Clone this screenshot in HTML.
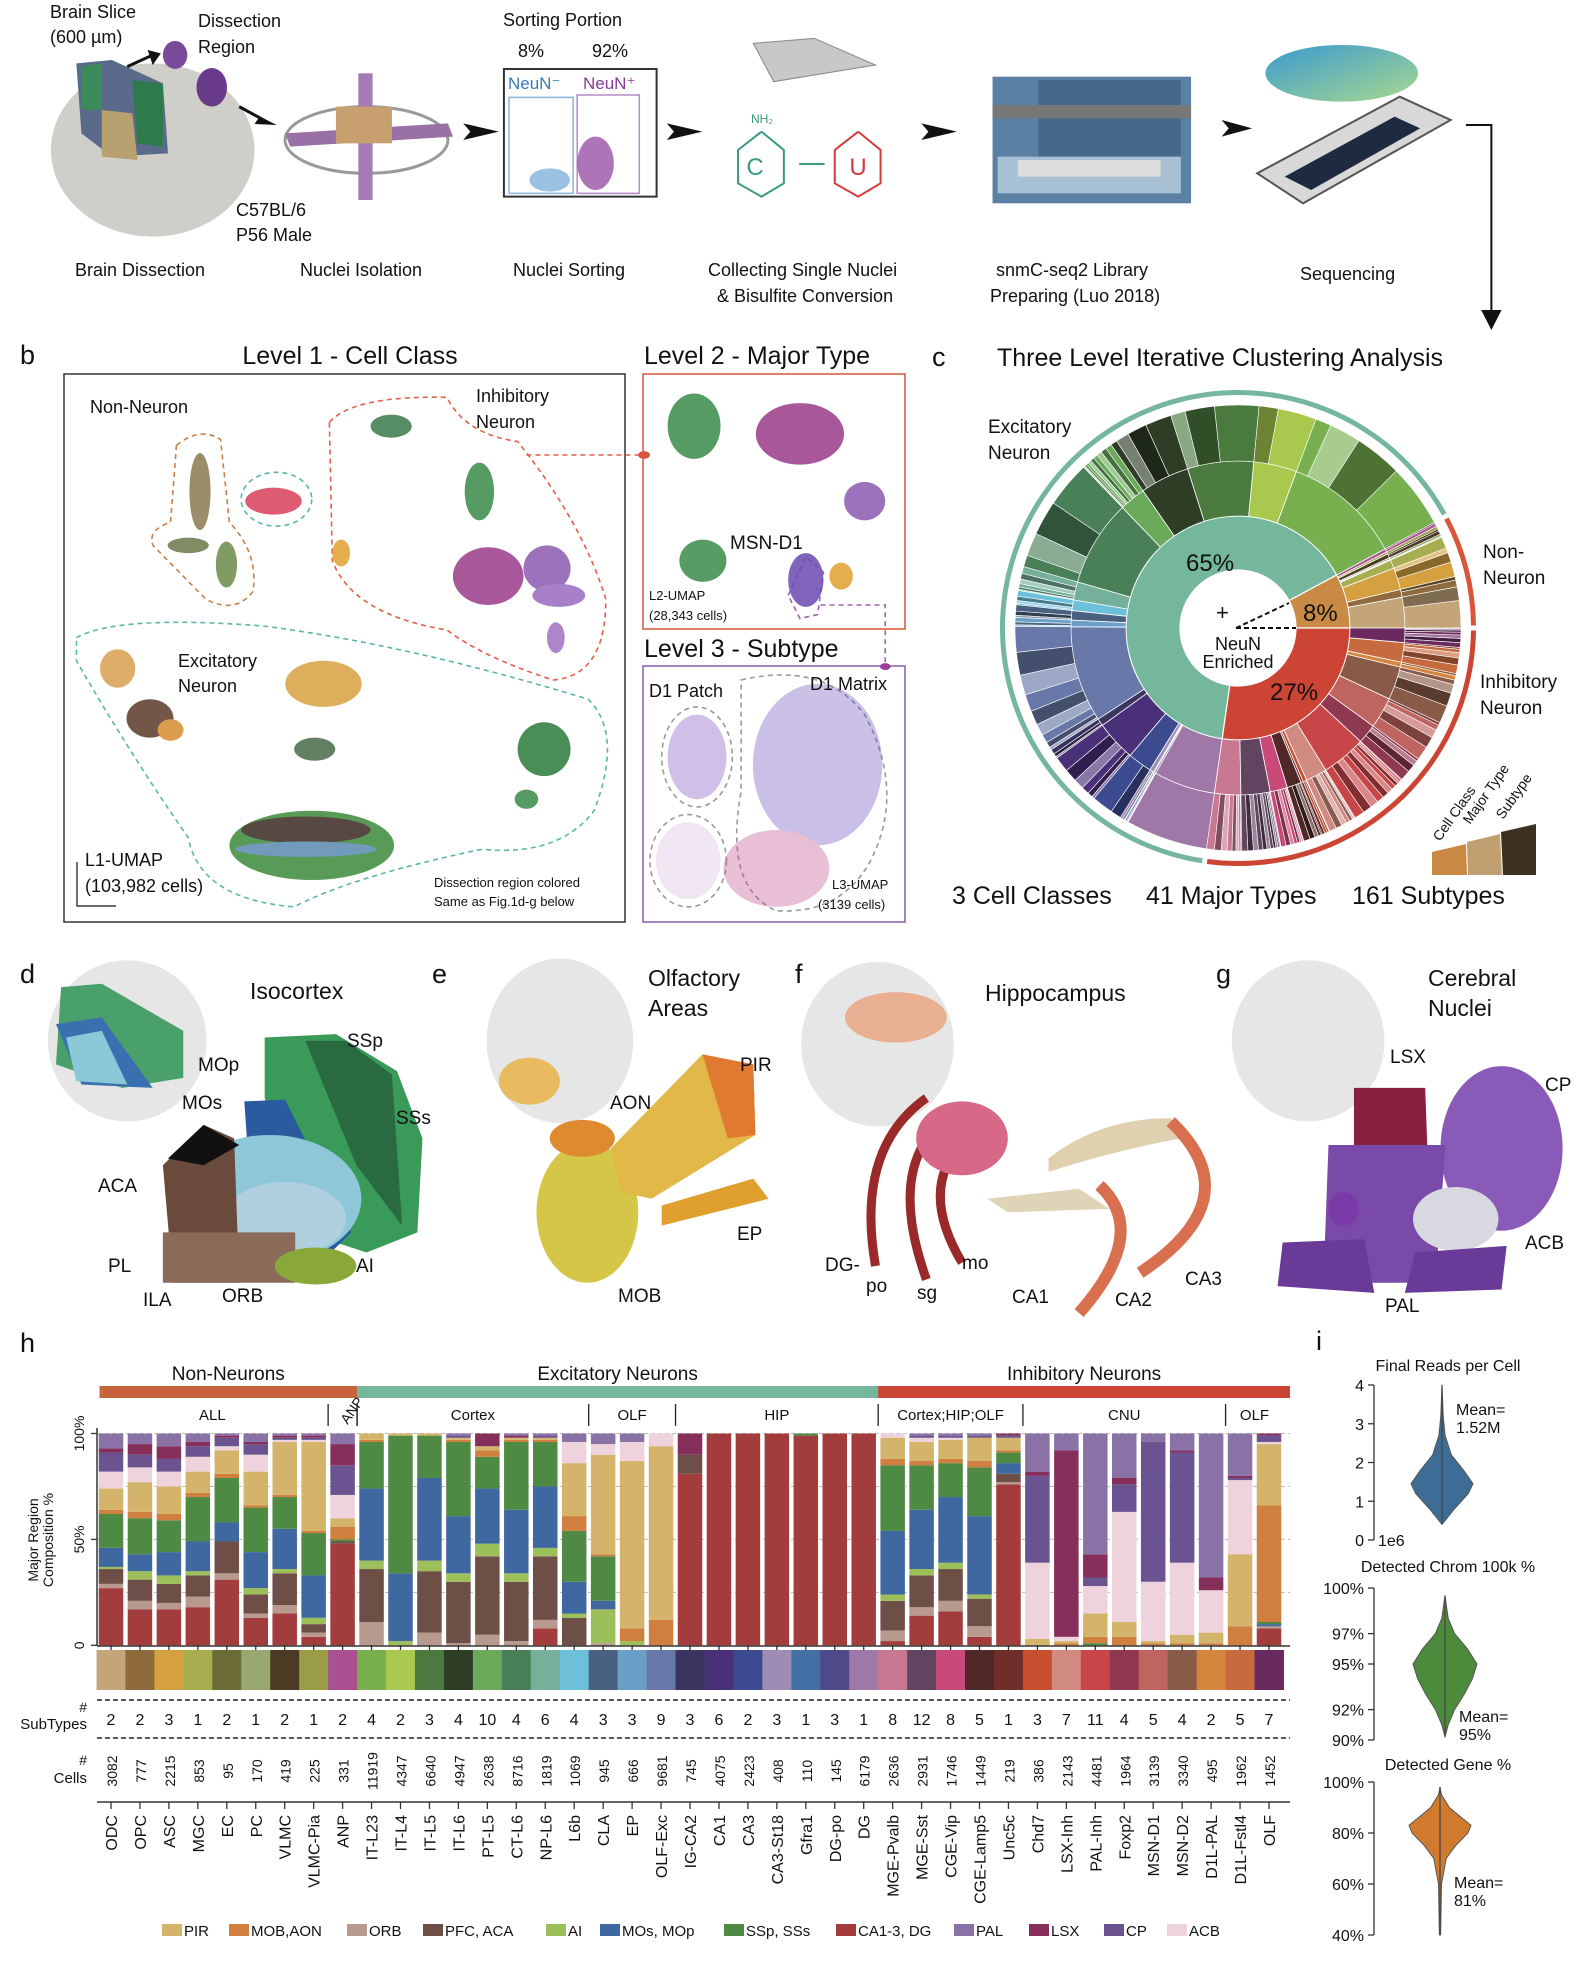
<!DOCTYPE html>
<html><head><meta charset="utf-8">
<style>
html,body{margin:0;padding:0;background:#fff;}
body{width:1588px;height:1958px;overflow:hidden;font-family:"Liberation Sans",Arial,sans-serif;}
svg text{font-family:"Liberation Sans",Arial,sans-serif;fill:#111;}
</style></head>
<body>
<svg id="fig" width="1588" height="1958" viewBox="0 0 1588 1958" xmlns="http://www.w3.org/2000/svg">
<defs>
<linearGradient id="chipg" x1="0" y1="0" x2="1" y2="1"><stop offset="0" stop-color="#3a9ad0"/><stop offset="1" stop-color="#a8d890"/></linearGradient>
</defs>

<!-- ===== Top row (panel a) ===== -->
<g transform="scale(1.018,0.3333)">
  <ellipse cx="150" cy="450" rx="100" ry="260" fill="#cfcec8"/>
  <path d="M75 190 L110 180 L160 250 L165 460 L110 470 L80 400 Z" fill="#5a6a8a"/>
  <path d="M80 200 L100 190 L100 330 L80 330Z" fill="#3a8a5a"/>
  <path d="M130 240 L160 250 L160 440 L135 430Z" fill="#2d7a4a"/>
  <path d="M100 330 L130 340 L135 480 L100 470Z" fill="#b8a070"/>
  <ellipse cx="172" cy="165" rx="12" ry="42" fill="#7a4a9a"/>
  <ellipse cx="208" cy="262" rx="15" ry="58" fill="#6a3a8a"/>
  <g stroke="#111" stroke-width="3" vector-effect="non-scaling-stroke" fill="#111">
    <line x1="125" y1="200" x2="150" y2="165" vector-effect="non-scaling-stroke"/>
    <line x1="235" y1="320" x2="262" y2="365" vector-effect="non-scaling-stroke"/>
  </g>
  <polygon points="455,370 490,395 455,420 462,395" fill="#111"/>
  <polygon points="655,370 690,395 655,420 662,395" fill="#111"/>
  <polygon points="905,370 940,395 905,420 912,395" fill="#111"/>
  <polygon points="1200,360 1230,385 1200,410 1207,385" fill="#111"/>
  <polygon points="145,150 158,160 150,195" fill="#111"/>
  <polygon points="255,350 272,375 250,372" fill="#111"/>
  <ellipse cx="360" cy="420" rx="80" ry="100" fill="none" stroke="#999" stroke-width="3" vector-effect="non-scaling-stroke"/>
  <path d="M280 400 L440 370 L445 410 L285 440Z" fill="#9a70a8"/>
  <rect x="352" y="220" width="14" height="380" fill="#a67ab4"/>
  <rect x="330" y="320" width="55" height="110" fill="#c8a070"/>
  <rect x="495" y="207" width="150" height="383" fill="#fff" stroke="#333" stroke-width="2" vector-effect="non-scaling-stroke"/>
  <rect x="500" y="292" width="63" height="288" fill="none" stroke="#8ab4d8" stroke-width="1.5" vector-effect="non-scaling-stroke"/>
  <rect x="567" y="285" width="61" height="295" fill="none" stroke="#b48ac8" stroke-width="1.5" vector-effect="non-scaling-stroke"/>
  <ellipse cx="540" cy="540" rx="20" ry="35" fill="#5a9ad0" opacity=".6"/>
  <ellipse cx="585" cy="490" rx="18" ry="80" fill="#8a3a9a" opacity=".7"/>
  <polygon points="740,130 800,115 860,195 760,245" fill="#c8c8c8" stroke="#888" stroke-width="1" vector-effect="non-scaling-stroke"/>
  <g fill="none" stroke-width="2" vector-effect="non-scaling-stroke">
    <polyline points="748,395 770,450 770,550 748,590 725,550 725,450 748,395" stroke="#3a9a80" vector-effect="non-scaling-stroke"/>
    <polyline points="843,395 865,450 865,550 843,590 820,550 820,450 843,395" stroke="#d83a3a" vector-effect="non-scaling-stroke"/>
    <line x1="785" y1="492" x2="810" y2="492" stroke="#3a9a80" vector-effect="non-scaling-stroke"/>
  </g>
  <rect x="975" y="230" width="195" height="380" fill="#5a80a4"/>
  <rect x="1020" y="240" width="140" height="230" fill="#46688a"/>
  <rect x="975" y="315" width="195" height="40" fill="#777"/>
  <rect x="980" y="470" width="180" height="110" fill="#a8c0d4"/>
  <rect x="1000" y="480" width="140" height="50" fill="#ddd"/>
  <ellipse cx="1318" cy="220" rx="75" ry="85" fill="url(#chipg)"/>
  <polygon points="1235,520 1375,290 1425,360 1280,610" fill="#d8d8d8" stroke="#555" stroke-width="2" vector-effect="non-scaling-stroke"/>
  <polygon points="1262,530 1370,350 1395,385 1288,570" fill="#1e2a40"/>
  <path d="M1440 375 L1465 375 L1465 960" fill="none" stroke="#111" stroke-width="2" vector-effect="non-scaling-stroke"/>
  <polygon points="1455,930 1475,930 1465,990" fill="#111"/>
</g>
<g font-size="18">
  <text x="50" y="18">Brain Slice</text><text x="50" y="43">(600 µm)</text>
  <text x="198" y="27">Dissection</text><text x="198" y="53">Region</text>
  <text x="503" y="26">Sorting Portion</text>
  <text x="518" y="57">8%</text><text x="592" y="57">92%</text>
  <text x="508" y="89" font-size="17" style="fill:#3a7ab8">NeuN⁻</text>
  <text x="583" y="89" font-size="17" style="fill:#8a3a9a">NeuN⁺</text>
  <text x="751" y="123" font-size="12" style="fill:#3a9a80">NH₂</text>
  <text x="755" y="175" font-size="24" text-anchor="middle" style="fill:#3a9a80">C</text>
  <text x="858" y="175" font-size="24" text-anchor="middle" style="fill:#d83a3a">U</text>
  <text x="236" y="216">C57BL/6</text><text x="236" y="241">P56 Male</text>
  <text x="75" y="276">Brain Dissection</text>
  <text x="300" y="276">Nuclei Isolation</text>
  <text x="513" y="276">Nuclei Sorting</text>
  <text x="708" y="276">Collecting Single Nuclei</text>
  <text x="717" y="302">&amp; Bisulfite Conversion</text>
  <text x="996" y="276">snmC-seq2 Library</text>
  <text x="990" y="302">Preparing (Luo 2018)</text>
  <text x="1300" y="280">Sequencing</text>
</g>

<!-- ===== Panel b ===== -->
<g>
  <text x="20" y="364" font-size="27">b</text>
  <text x="350" y="364" font-size="25" text-anchor="middle">Level 1 - Cell Class</text>
  <text x="644" y="364" font-size="25">Level 2 - Major Type</text>
  <text x="644" y="657" font-size="25">Level 3 - Subtype</text>
  <rect x="64" y="374" width="561" height="548" fill="none" stroke="#333" stroke-width="1.5"/>
  <rect x="643" y="374" width="262" height="255" fill="none" stroke="#d8553a" stroke-width="1.5"/>
  <rect x="643" y="666" width="262" height="256" fill="none" stroke="#8a5ab0" stroke-width="1.5"/>
  <g transform="translate(0,330) scale(0.5882,0.3846)">
    <g fill="none" stroke-width="1.6" stroke-dasharray="5,4">
      <path vector-effect="non-scaling-stroke" stroke="#c8804a" d="M300 300 Q340 250 375 285 L390 500 Q440 580 430 680 Q400 740 350 700 L260 560 Q250 520 290 500 Z"/>
      <ellipse vector-effect="non-scaling-stroke" stroke="#5ab8a0" cx="470" cy="440" rx="60" ry="70"/>
      <path vector-effect="non-scaling-stroke" stroke="#e0604a" d="M560 240 Q600 170 760 175 Q790 270 880 290 Q990 500 1030 700 Q1030 900 940 910 Q820 850 760 780 Q600 740 565 600 Z"/>
      <path vector-effect="non-scaling-stroke" stroke="#5ab8a0" d="M130 800 Q200 740 450 770 Q700 820 1000 960 Q1060 1050 1010 1250 Q950 1370 820 1350 Q600 1420 500 1500 Q340 1480 320 1320 Q220 1100 130 860 Z"/>
      <path vector-effect="non-scaling-stroke" stroke="#e0604a" d="M895 325 L1090 325"/>
      <path vector-effect="non-scaling-stroke" stroke="#a060b0" d="M1395 715 L1505 715 L1505 875"/>
      <ellipse vector-effect="non-scaling-stroke" stroke="#999" cx="1185" cy="1110" rx="60" ry="130"/>
      <ellipse vector-effect="non-scaling-stroke" stroke="#999" cx="1170" cy="1380" rx="65" ry="120"/>
      <path vector-effect="non-scaling-stroke" stroke="#999" d="M1260 910 Q1400 860 1470 1000 Q1540 1200 1480 1380 Q1430 1520 1320 1510 Q1230 1450 1260 1200 Z"/>
      <path vector-effect="non-scaling-stroke" stroke="#a060b0" d="M1340 690 L1370 590 L1400 630 L1390 740 L1360 750 Z"/>
    </g>
    <circle cx="1095" cy="325" r="10" fill="#d8553a"/>
    <circle cx="1505" cy="875" r="9" fill="#a03a9a"/>
    <g opacity="0.85">
      <ellipse cx="340" cy="420" rx="18" ry="100" fill="#8a7a50"/>
      <ellipse cx="385" cy="610" rx="18" ry="60" fill="#6a8a4a"/>
      <ellipse cx="320" cy="560" rx="35" ry="20" fill="#6a7a4a"/>
      <ellipse cx="465" cy="445" rx="48" ry="35" fill="#d8405a"/>
      <ellipse cx="665" cy="250" rx="35" ry="30" fill="#3a7a4a"/>
      <ellipse cx="815" cy="420" rx="25" ry="75" fill="#3a8a4a"/>
      <ellipse cx="830" cy="640" rx="60" ry="75" fill="#9a3a8a"/>
      <ellipse cx="930" cy="620" rx="40" ry="60" fill="#8a5ab0"/>
      <ellipse cx="950" cy="690" rx="45" ry="30" fill="#9a6ac0"/>
      <ellipse cx="580" cy="580" rx="15" ry="35" fill="#e0a030"/>
      <ellipse cx="945" cy="800" rx="15" ry="40" fill="#a070c0"/>
      <ellipse cx="200" cy="880" rx="30" ry="50" fill="#d8a050"/>
      <ellipse cx="255" cy="1010" rx="40" ry="50" fill="#5a3a2a"/>
      <ellipse cx="290" cy="1040" rx="22" ry="28" fill="#d88a30"/>
      <ellipse cx="550" cy="920" rx="65" ry="60" fill="#d8a040"/>
      <ellipse cx="535" cy="1090" rx="35" ry="30" fill="#4a6a4a"/>
      <ellipse cx="925" cy="1090" rx="45" ry="70" fill="#2a7a3a"/>
      <ellipse cx="895" cy="1220" rx="20" ry="25" fill="#3a8a4a"/>
      <ellipse cx="530" cy="1340" rx="140" ry="90" fill="#3a8a3a"/>
      <ellipse cx="520" cy="1300" rx="110" ry="35" fill="#3a2a20"/>
      <ellipse cx="520" cy="1350" rx="120" ry="20" fill="#5a8ab0"/>
      <ellipse cx="1180" cy="250" rx="45" ry="85" fill="#3a8a4a"/>
      <ellipse cx="1360" cy="270" rx="75" ry="80" fill="#9a3a8a"/>
      <ellipse cx="1470" cy="445" rx="35" ry="50" fill="#8a5ab0"/>
      <ellipse cx="1195" cy="600" rx="40" ry="55" fill="#3a8a4a"/>
      <ellipse cx="1370" cy="650" rx="30" ry="70" fill="#6a4ab0"/>
      <ellipse cx="1430" cy="640" rx="20" ry="35" fill="#e0a030"/>
    </g>
    <g opacity="0.35">
      <ellipse cx="1185" cy="1110" rx="50" ry="110" fill="#7a4ab8"/>
      <ellipse cx="1390" cy="1130" rx="110" ry="210" fill="#6a4ab8"/>
      <ellipse cx="1320" cy="1400" rx="90" ry="100" fill="#c04a8a"/>
      <ellipse cx="1170" cy="1380" rx="55" ry="100" fill="#d8b8e0"/>
    </g>
  </g>
  <text x="90" y="413" font-size="18">Non-Neuron</text>
  <text x="476" y="402" font-size="18">Inhibitory</text>
  <text x="476" y="428" font-size="18">Neuron</text>
  <text x="178" y="667" font-size="18">Excitatory</text>
  <text x="178" y="692" font-size="18">Neuron</text>
  <text x="85" y="866" font-size="18">L1-UMAP</text>
  <text x="85" y="892" font-size="18">(103,982 cells)</text>
  <path d="M77 862 L77 906 L116 906" fill="none" stroke="#111" stroke-width="1.2"/>
  <text x="434" y="887" font-size="13">Dissection region colored</text>
  <text x="434" y="906" font-size="13">Same as Fig.1d-g below</text>
  <text x="730" y="549" font-size="19">MSN-D1</text>
  <text x="649" y="600" font-size="13">L2-UMAP</text>
  <text x="649" y="620" font-size="13">(28,343 cells)</text>
  <text x="649" y="697" font-size="18">D1 Patch</text>
  <text x="810" y="690" font-size="18">D1 Matrix</text>
  <text x="832" y="889" font-size="13">L3-UMAP</text>
  <text x="818" y="909" font-size="13">(3139 cells)</text>
</g>

<!-- ===== Panel c sunburst ===== -->
<g>
  <text x="932" y="366" font-size="27">c</text>
  <text x="997" y="366" font-size="25">Three Level Iterative Clustering Analysis</text>
  <g id="sunburst"></g>
  <text x="988" y="433" font-size="19">Excitatory</text>
  <text x="988" y="459" font-size="19">Neuron</text>
  <text x="1483" y="558" font-size="19">Non-</text>
  <text x="1483" y="584" font-size="19">Neuron</text>
  <text x="1480" y="688" font-size="19">Inhibitory</text>
  <text x="1480" y="714" font-size="19">Neuron</text>
  <text x="1186" y="571" font-size="24">65%</text>
  <text x="1303" y="621" font-size="24">8%</text>
  <text x="1270" y="700" font-size="24">27%</text>
  <text x="1216" y="620" font-size="22">+</text>
  <path d="M1236 628 L1289 603 M1236 628 L1296 628" stroke="#111" stroke-width="2" stroke-dasharray="5,3" fill="none"/>
  <text x="1238" y="650" font-size="18" text-anchor="middle">NeuN</text>
  <text x="1238" y="668" font-size="18" text-anchor="middle">Enriched</text>
  <g>
    <path d="M1432 875 L1432 852 L1466 844 L1467 875Z" fill="#c98a45"/>
    <path d="M1468 875 L1467 842 L1500 834 L1502 875Z" fill="#c0a070"/>
    <path d="M1503 875 L1501 832 L1536 824 L1536 875Z" fill="#3d3020"/>
    <text transform="translate(1440,842) rotate(-55)" font-size="14">Cell Class</text>
    <text transform="translate(1470,825) rotate(-55)" font-size="14">Major Type</text>
    <text transform="translate(1503,820) rotate(-55)" font-size="14">Subtype</text>
  </g>
  <text x="952" y="904" font-size="25">3 Cell Classes</text>
  <text x="1146" y="904" font-size="25">41 Major Types</text>
  <text x="1352" y="904" font-size="25">161 Subtypes</text>
</g>

<!-- ===== Panels d-g ===== -->
<g transform="translate(0,930) scale(1.018,0.336)">
  <g fill="#e2e2e2" opacity="0.85">
    <ellipse cx="125" cy="330" rx="78" ry="240"/>
    <ellipse cx="550" cy="330" rx="72" ry="245"/>
    <ellipse cx="862" cy="340" rx="75" ry="245"/>
    <ellipse cx="1285" cy="330" rx="75" ry="240"/>
  </g>
  <path d="M60 170 L100 160 L180 300 L180 440 L120 470 L55 400Z" fill="#4aa06a"/>
  <path d="M55 280 L100 260 L150 470 L80 460Z" fill="#3a70b0"/>
  <path d="M65 320 L100 300 L125 460 L75 450Z" fill="#8ac8d8"/>
  <path d="M260 320 L330 310 L390 420 L415 620 L410 900 L360 960 L300 900 L260 500Z" fill="#3a9a5a"/>
  <path d="M300 330 L340 330 L385 430 L395 880 L350 700Z" fill="#2a6a40"/>
  <path d="M240 510 L280 505 L345 900 L325 960 L250 950Z" fill="#2a5aa0"/>
  <ellipse cx="265" cy="800" rx="90" ry="190" fill="#8ec8d8"/>
  <ellipse cx="280" cy="860" rx="60" ry="110" fill="#b0d0e0"/>
  <path d="M160 700 L200 580 L230 620 L235 1050 L170 1050Z" fill="#6a4a3a"/>
  <path d="M165 680 L200 580 L235 640 L200 700Z" fill="#111"/>
  <path d="M160 900 L290 900 L290 1050 L160 1050Z" fill="#8a6a58"/>
  <ellipse cx="310" cy="1000" rx="40" ry="55" fill="#8aa83a"/>
  <ellipse cx="520" cy="450" rx="30" ry="70" fill="#e8b040" opacity=".8"/>
  <ellipse cx="577" cy="840" rx="50" ry="210" fill="#d6c648"/>
  <ellipse cx="572" cy="620" rx="32" ry="55" fill="#e08a30"/>
  <path d="M600 650 L690 370 L740 400 L742 610 L640 800 L610 780Z" fill="#e2b848"/>
  <path d="M690 370 L740 400 L742 610 L715 620Z" fill="#e07a30"/>
  <path d="M650 820 L740 740 L755 800 L650 880Z" fill="#e0a030"/>
  <ellipse cx="880" cy="260" rx="50" ry="75" fill="#e8b090"/>
  <g fill="none" stroke="#9a2a2a" stroke-width="9" vector-effect="non-scaling-stroke">
    <path d="M910 500 Q840 650 860 1000" vector-effect="non-scaling-stroke"/>
    <path d="M930 560 Q870 700 910 1040" vector-effect="non-scaling-stroke"/>
    <path d="M950 620 Q900 760 945 990" vector-effect="non-scaling-stroke"/>
  </g>
  <ellipse cx="945" cy="620" rx="45" ry="110" fill="#d86888"/>
  <path d="M1030 680 Q1080 560 1150 560 L1160 620 Q1090 660 1030 720Z" fill="#e0d0b0"/>
  <path d="M970 800 L1060 770 L1090 830 L990 840Z" fill="#e0d4b8"/>
  <g fill="none" stroke="#d87050" stroke-width="12" vector-effect="non-scaling-stroke">
    <path d="M1080 760 Q1130 900 1060 1140" vector-effect="non-scaling-stroke"/>
    <path d="M1150 570 Q1230 800 1120 1020" vector-effect="non-scaling-stroke"/>
  </g>
  <path d="M1330 470 L1400 470 L1402 640 L1330 640Z" fill="#8a2040"/>
  <ellipse cx="1475" cy="650" rx="60" ry="245" fill="#8a5ab8"/>
  <path d="M1305 640 L1420 640 L1410 1050 L1300 1050Z" fill="#7a4aa8"/>
  <ellipse cx="1320" cy="830" rx="15" ry="50" fill="#7a3aa8"/>
  <ellipse cx="1430" cy="860" rx="42" ry="95" fill="#d8d8e0"/>
  <path d="M1260 930 L1340 920 L1350 1080 L1255 1060Z" fill="#6a3a98"/>
  <path d="M1390 960 L1480 940 L1475 1070 L1380 1080Z" fill="#6a3a98"/>
</g>
<g font-size="19">
  <text x="20" y="983" font-size="27">d</text>
  <text x="250" y="999" font-size="23">Isocortex</text>
  <text x="432" y="983" font-size="27">e</text>
  <text x="648" y="986" font-size="23">Olfactory</text>
  <text x="648" y="1016" font-size="23">Areas</text>
  <text x="795" y="983" font-size="27">f</text>
  <text x="985" y="1001" font-size="23">Hippocampus</text>
  <text x="1216" y="983" font-size="27">g</text>
  <text x="1428" y="986" font-size="23">Cerebral</text>
  <text x="1428" y="1016" font-size="23">Nuclei</text>
  <text x="347" y="1047">SSp</text><text x="198" y="1071">MOp</text><text x="182" y="1109">MOs</text>
  <text x="396" y="1124">SSs</text><text x="98" y="1192">ACA</text><text x="108" y="1272">PL</text>
  <text x="356" y="1272">AI</text><text x="143" y="1306">ILA</text><text x="222" y="1302">ORB</text>
  <text x="740" y="1071">PIR</text><text x="610" y="1109">AON</text><text x="737" y="1240">EP</text><text x="618" y="1302">MOB</text>
  <text x="825" y="1271">DG-</text><text x="866" y="1292">po</text><text x="917" y="1299">sg</text><text x="962" y="1269">mo</text>
  <text x="1012" y="1303">CA1</text><text x="1115" y="1306">CA2</text><text x="1185" y="1285">CA3</text>
  <text x="1390" y="1063">LSX</text><text x="1545" y="1091">CP</text><text x="1525" y="1249">ACB</text><text x="1385" y="1312">PAL</text>
</g>

<!-- ===== Panel h bar chart ===== -->
<g id="panelh">
  <text x="20" y="1352" font-size="27">h</text>
</g>

<!-- ===== Panel i violins ===== -->
<g id="paneli">
  <text x="1316" y="1350" font-size="27">i</text>
</g>
</svg>

<script>
const NS='http://www.w3.org/2000/svg';
function mk(parent,tag,attrs,text){const e=document.createElementNS(NS,tag);for(const k in attrs)e.setAttribute(k,attrs[k]);if(text!==undefined)e.textContent=text;parent.appendChild(e);return e;}

/* ---------- Panel h data ---------- */
const majorTypes=['ODC','OPC','ASC','MGC','EC','PC','VLMC','VLMC-Pia','ANP','IT-L23','IT-L4','IT-L5','IT-L6','PT-L5','CT-L6','NP-L6','L6b','CLA','EP','OLF-Exc','IG-CA2','CA1','CA3','CA3-St18','Gfra1','DG-po','DG','MGE-Pvalb','MGE-Sst','CGE-Vip','CGE-Lamp5','Unc5c','Chd7','LSX-Inh','PAL-Inh','Foxp2','MSN-D1','MSN-D2','D1L-PAL','D1L-Fstl4','OLF'];
const subtypeCounts=[2,2,3,1,2,1,2,1,2,4,2,3,4,10,4,6,4,3,3,9,3,6,2,3,1,3,1,8,12,8,5,1,3,7,11,4,5,4,2,5,7];
const cellCounts=[3082,777,2215,853,95,170,419,225,331,11919,4347,6640,4947,2638,8716,1819,1069,945,666,9681,745,4075,2423,408,110,145,6179,2636,2931,1746,1449,219,386,2143,4481,1964,3139,3340,495,1962,1452];
const typeColors=['#c4a57a','#8e6a3c','#d4a040','#a8ad50','#6b6b35','#98a870','#4b3a24','#9a9d48','#a85090','#78b050','#a8c84e','#4a7a3e','#2e3d26','#6aaa5a','#4a8058','#74b09a','#6cc0da','#4a6080','#6aa0c8','#6878a8','#3a3460','#4a3078','#3c4a90','#9e8cb4','#4470a8','#4e4a8a','#a078a8','#c87890','#604460','#c84a78','#502828','#702e2a','#c84e30','#d08a80','#c84548','#903850','#c06460','#8a5a48','#d4853e','#c86a40','#6a2a60'];
const regCA=[27,17,17,18,31,13,15,4,48,0,0,0,0,0,0,8,0,0,0,0,81,100,100,100,99,100,100,2,14,16,4,76,0,0,0,0,0,0,0,0,8];
const regORB=[2,4,3,5,3,2,4,2,0,11,0,6,1,5,2,4,0,1,0,0,0,0,0,0,0,0,0,5,4,5,5,1,0,0,0,0,0,0,0,0,1];
const regPFC=[7,10,9,10,15,9,15,4,1,25,0,29,29,37,28,30,13,0,0,0,9,0,0,0,0,0,0,14,15,15,13,4,0,0,0,0,0,0,0,0,0];
const regAI=[1,4,4,2,0,3,2,3,0,4,2,5,4,6,4,4,2,16,2,0,0,0,0,0,0,0,0,3,3,3,2,0,0,0,0,0,0,0,0,0,0];
const regMOs=[9,8,11,14,9,17,19,20,0,34,32,39,27,26,30,29,15,4,0,0,0,0,0,0,0,0,0,30,28,31,37,5,0,0,0,0,0,0,0,0,1];
const regSSp=[16,17,15,21,21,21,15,20,1,22,65,20,35,15,32,21,24,21,0,0,0,0,0,0,1,0,0,31,21,16,23,5,0,0,1,0,0,0,0,0,1];
const regMOB=[2,3,3,2,2,1,1,1,6,1,0,0,1,3,1,1,7,1,6,12,0,0,0,0,0,0,0,3,2,2,3,1,0,1,3,4,1,1,1,9,55];
const regPIR=[10,14,13,10,11,16,25,42,4,3,1,1,1,2,1,1,25,47,79,82,0,0,0,0,0,0,0,10,9,9,11,6,3,1,11,7,1,4,5,34,29];
const regACB=[8,7,7,7,2,8,1,1,11,0,0,0,0,0,0,0,10,5,9,6,0,0,0,0,0,0,0,2,2,1,0,0,36,2,13,52,28,34,20,35,1];
const regCP=[9,6,6,5,4,5,1,1,14,0,0,0,1,0,0,1,0,0,0,0,0,0,0,0,0,0,0,0,1,1,1,1,41,0,4,13,66,52,0,1,3];
const regLSX=[2,5,6,2,1,1,1,1,10,0,0,0,0,6,1,0,0,0,0,0,10,0,0,0,0,0,0,0,0,0,0,1,2,88,11,3,0,1,6,1,1];
const regPAL=[7,5,6,4,1,4,1,1,5,0,0,0,1,0,1,1,4,5,4,0,0,0,0,0,0,0,0,0,1,1,1,0,18,8,57,21,4,8,68,20,0];
const yTicks=[0,50,100];
const yTickLabels=['0','50%','100%'];
const classNames=['Non-Neurons','Excitatory Neurons','Inhibitory Neurons'];
const classSpans=[[0,8],[9,26],[27,40]];
const groupNames=['ALL','ANP','Cortex','OLF','HIP','Cortex;HIP;OLF','CNU','OLF'];
const groupSpans=[[0,7],[8,8],[9,16],[17,19],[20,26],[27,31],[32,38],[39,40]];
const legendNames=['PIR','MOB,AON','ORB','PFC, ACA','AI','MOs, MOp','SSp, SSs','CA1-3, DG','PAL','LSX','CP','ACB'];

const regions=[regCA,regORB,regPFC,regAI,regMOs,regSSp,regMOB,regPIR,regACB,regCP,regLSX,regPAL];
const regionColors=['#a33d3d','#b8998e','#6e4f48','#9dbf5a','#3f67a0','#4e8a44','#d07f3e','#d4b46a','#efd3dc','#6a5390','#852f5a','#8a72a6'];
const regionKeys=['CA1-3, DG','ORB','PFC, ACA','AI','MOs, MOp','SSp, SSs','MOB,AON','PIR','ACB','CP','LSX','PAL'];

const H=document.getElementById('panelh');
const step=28.95, x0=111, bw=24.5;
const xC=i=>x0+i*step;
const yP=p=>1645.3-p*2.118;

const classColors=['#c8643c','#74b79c','#cc4433'];
classSpans.forEach((s,k)=>{
  const xa=k===0?99.5:xC(s[0])-step/2, xb=k===2?1290:xC(s[1])+step/2;
  const r=mk(H,'rect',{x:xa,y:1386,width:xb-xa,height:12,fill:classColors[k]});
  
  
  const t=mk(H,'text',{x:(xa+xb)/2,y:1380,'font-size':19,'text-anchor':'middle'},classNames[k]);
  
  
});
groupSpans.forEach((s,k)=>{
  const xa=xC(s[0])-step/2, xb=xC(s[1])+step/2;
  if(k===1){
    const t=mk(H,'text',{transform:`translate(${(xa+xb)/2+5},1425) rotate(-55)`,'font-size':14},groupNames[k]);
    
    
  } else {
    const t=mk(H,'text',{x:(xa+xb)/2,y:1420,'font-size':15,'text-anchor':'middle'},groupNames[k]);
    
    
  }
  if(k>0) mk(H,'line',{x1:xa,x2:xa,y1:1404,y2:1426,stroke:'#222','stroke-width':1.3});
});
mk(H,'line',{x1:xC(9)-step/2,x2:xC(9)-step/2,y1:1404,y2:1426,stroke:'#222','stroke-width':1.3});
[25,50,75,100].forEach(p=>mk(H,'line',{x1:98,x2:1290,y1:yP(p),y2:yP(p),stroke:'#bbb','stroke-width':1,'stroke-dasharray':'4,3'}));
for(let i=0;i<majorTypes.length;i++){
  let tot=0; regions.forEach(r=>tot+=r[i]);
  let cum=0;
  regions.forEach((r,k)=>{
    const v=r[i]/tot*100; if(v<=0) return;
    const rect=mk(H,'rect',{x:xC(i)-bw/2,y:yP(cum+v),width:bw,height:v*2.118,fill:regionColors[k]});
    
    
    cum+=v;
  });
  mk(H,'line',{x1:xC(i),x2:xC(i),y1:1645,y2:1652,stroke:'#333','stroke-width':1.3});
  const sw=mk(H,'rect',{x:xC(i)-step/2,y:1650,width:step+0.5,height:40,fill:typeColors[i]});
  
  
  const st=mk(H,'text',{x:xC(i),y:1725,'font-size':16,'text-anchor':'middle'},String(subtypeCounts[i]));
  
  
  const cc=mk(H,'text',{transform:`translate(${xC(i)+6},1771) rotate(-90)`,'font-size':14,'text-anchor':'middle'},String(cellCounts[i]));
  
  
  mk(H,'line',{x1:xC(i),x2:xC(i),y1:1802,y2:1809,stroke:'#333','stroke-width':1.3});
  const lb=mk(H,'text',{transform:`translate(${xC(i)+6},1815) rotate(-90)`,'font-size':16,'text-anchor':'end'},majorTypes[i]);
  
  
}
mk(H,'line',{x1:97,x2:97,y1:1428,y2:1646,stroke:'#333','stroke-width':1.5});
mk(H,'line',{x1:97,x2:1290,y1:1646,y2:1646,stroke:'#333','stroke-width':1.5});
yTicks.forEach((p,k)=>{
  mk(H,'line',{x1:91,x2:97,y1:yP(p),y2:yP(p),stroke:'#333','stroke-width':1.3});
  const t=mk(H,'text',{transform:`translate(84,${yP(p)}) rotate(-90)`,'font-size':14,'text-anchor':'middle'},yTickLabels[k]);
  
  
});
const yl=mk(H,'text',{transform:'translate(38,1540) rotate(-90)','font-size':14,'text-anchor':'middle'},'Major Region');


mk(H,'text',{transform:'translate(53,1540) rotate(-90)','font-size':14,'text-anchor':'middle'},'Composition %');
mk(H,'line',{x1:97,x2:1290,y1:1700,y2:1700,stroke:'#222','stroke-width':1.5,'stroke-dasharray':'5,3'});
mk(H,'line',{x1:97,x2:1290,y1:1738,y2:1738,stroke:'#222','stroke-width':1.5,'stroke-dasharray':'5,3'});
mk(H,'line',{x1:97,x2:1290,y1:1802,y2:1802,stroke:'#333','stroke-width':1.5});
mk(H,'text',{x:87,y:1712,'font-size':14,'text-anchor':'end'},'#');
mk(H,'text',{x:87,y:1729,'font-size':15,'text-anchor':'end'},'SubTypes');
mk(H,'text',{x:87,y:1765,'font-size':14,'text-anchor':'end'},'#');
mk(H,'text',{x:87,y:1783,'font-size':15,'text-anchor':'end'},'Cells');
const legX=[162,229,347,423,546,600,724,836,954,1029,1104,1167];
const legColorIdx=[7,6,1,2,3,4,5,0,11,10,9,8];
legendNames.forEach((n,k)=>{
  const g=mk(H,'g',{});
  
  
  mk(g,'rect',{x:legX[k],y:1924,width:20,height:12,fill:regionColors[legColorIdx[k]]});
  mk(g,'text',{x:legX[k]+22,y:1936,'font-size':15},n);
});

/* ---------- Panel i violins ---------- */
const readsVals=[0.4,0.8,1.2,1.45,1.8,2.2,2.7,3.2,4.0];
const readsDens=[0,0.4,0.85,1,0.7,0.3,0.1,0.04,0];
const chromVals=[90.2,91,92,93,94,95,96,97,98,99.5];
const chromDens=[0,0.1,0.3,0.6,0.85,1,0.7,0.3,0.1,0];
const geneVals=[40,60,70,75,80,83,86,90,95,98];
const geneDens=[0.02,0.05,0.2,0.5,0.9,1,0.7,0.3,0.05,0];
const violinTitles=['Final Reads per Cell','Detected Chrom 100k %','Detected Gene %'];
const P=document.getElementById('paneli');
function violin(cfg){
  const {vals,dens,vmin,vmax,ytop,ybot,cx,hw,color,ticks,tickLab,title,ty,mean,my}=cfg;
  const y=v=>ybot-(v-vmin)/(vmax-vmin)*(ybot-ytop);
  const ax=1374;
  const t=mk(P,'text',{x:1448,y:ty,'font-size':16,'text-anchor':'middle'},title);
  
  
  mk(P,'line',{x1:ax,x2:ax,y1:ytop,y2:ybot,stroke:'#333','stroke-width':1.3});
  ticks.forEach((v,k)=>{
    mk(P,'line',{x1:ax-6,x2:ax,y1:y(v),y2:y(v),stroke:'#333','stroke-width':1.3});
    mk(P,'text',{x:ax-10,y:y(v)+6,'font-size':16,'text-anchor':'end'},tickLab[k]);
  });
  let L=[],R=[];
  vals.forEach((v,k)=>{L.push([cx-dens[k]*hw,y(v)]);R.push([cx+dens[k]*hw,y(v)]);});
  const pts=R.concat(L.reverse());
  let d='M'+pts.map(p=>p[0].toFixed(1)+' '+p[1].toFixed(1)).join(' L')+'Z';
  const p=mk(P,'path',{d:d,fill:color,stroke:'#555','stroke-width':1,'stroke-linejoin':'round'});
  
  
  mk(P,'line',{x1:cx,x2:cx,y1:y(vals[0]),y2:y(vals[vals.length-1]),stroke:'#444','stroke-width':1.2});
  mk(P,'text',{x:cx+14,y:my,'font-size':16},'Mean=');
  mk(P,'text',{x:cx+14,y:my+18,'font-size':16},mean);
}
violin({vals:readsVals,dens:readsDens,vmin:0,vmax:4,ytop:1385,ybot:1540,cx:1442,hw:31,color:'#3d6d96',ticks:[0,1,2,3,4],tickLab:['0','1','2','3','4'],title:violinTitles[0],ty:1371,mean:'1.52M',my:1415});
mk(P,'text',{x:1378,y:1546,'font-size':16},'1e6');
violin({vals:chromVals,dens:chromDens,vmin:90,vmax:100,ytop:1588,ybot:1740,cx:1445,hw:32,color:'#4c8a3c',ticks:[90,92,95,97,100],tickLab:['90%','92%','95%','97%','100%'],title:violinTitles[1],ty:1572,mean:'95%',my:1722});
violin({vals:geneVals,dens:geneDens,vmin:40,vmax:100,ytop:1782,ybot:1935,cx:1440,hw:31,color:'#d07a2e',ticks:[40,60,80,100],tickLab:['40%','60%','80%','100%'],title:violinTitles[2],ty:1770,mean:'81%',my:1888});

/* ---------- Panel c sunburst ---------- */
const classCounts=[0,0,0];
const classOf=i=>i<=8?0:(i<=26?1:2);
cellCounts.forEach((c,i)=>classCounts[classOf(i)]+=c);
const classRingColors=['#c98a45','#74b79c','#cc4433'];
const SB=document.getElementById('sunburst');
const cx=1238, cy=628;
function pt(r,a){const t=a*Math.PI/180;return (cx+r*Math.cos(t)).toFixed(2)+' '+(cy+r*Math.sin(t)).toFixed(2);}
function arc(r0,r1,a0,a1){const lg=(a1-a0)>180?1:0;return `M${pt(r1,a0)} A${r1} ${r1} 0 ${lg} 1 ${pt(r1,a1)} L${pt(r0,a1)} A${r0} ${r0} 0 ${lg} 0 ${pt(r0,a0)}Z`;}
function shade(hex,f){let n=parseInt(hex.slice(1),16);let r=n>>16,g=(n>>8)&255,b=n&255;
  if(f>0){r+= (255-r)*f;g+=(255-g)*f;b+=(255-b)*f;}else{r*=1+f;g*=1+f;b*=1+f;}
  return 'rgb('+[r,g,b].map(v=>Math.round(v)).join(',')+')';}
const total=cellCounts.reduce((a,b)=>a+b,0);
let cum=0;
classCounts.forEach((c,k)=>{
  const a1=-cum/total*360,a0=-(cum+c)/total*360;
  const p=mk(SB,'path',{d:arc(58,112,a0,a1),fill:classRingColors[k],stroke:'#fff','stroke-width':1.2});
  
  
  const q=mk(SB,'path',{d:arc(233,238,a0+0.6,a1-0.6),fill:k===0?'#d8553a':(k===1?'#74b79c':'#cc4433')});
  
  
  cum+=c;
});
cum=0;
cellCounts.forEach((c,i)=>{
  const a1=-cum/total*360,a0=-(cum+c)/total*360;
  const p=mk(SB,'path',{d:arc(112,167,a0,a1),fill:typeColors[i],stroke:'#fff','stroke-width':0.8});
  
  
  const n=subtypeCounts[i];let wsum=0;for(let k=0;k<n;k++)wsum+=(n-k);
  let sc=0;
  for(let k=0;k<n;k++){
    const sv=c*(n-k)/wsum;
    const b1=-(cum+sc)/total*360,b0=-(cum+sc+sv)/total*360;
    const s=mk(SB,'path',{d:arc(167,223,b0,b1),fill:shade(typeColors[i],(k%3===0?0:(k%3===1?-0.35:0.35))),stroke:'#fff','stroke-width':0.6});
    
    
    sc+=sv;
  }
  cum+=c;
});
mk(SB,'circle',{cx:cx,cy:cy,r:57,fill:'#fff'});
</script>
</body></html>
